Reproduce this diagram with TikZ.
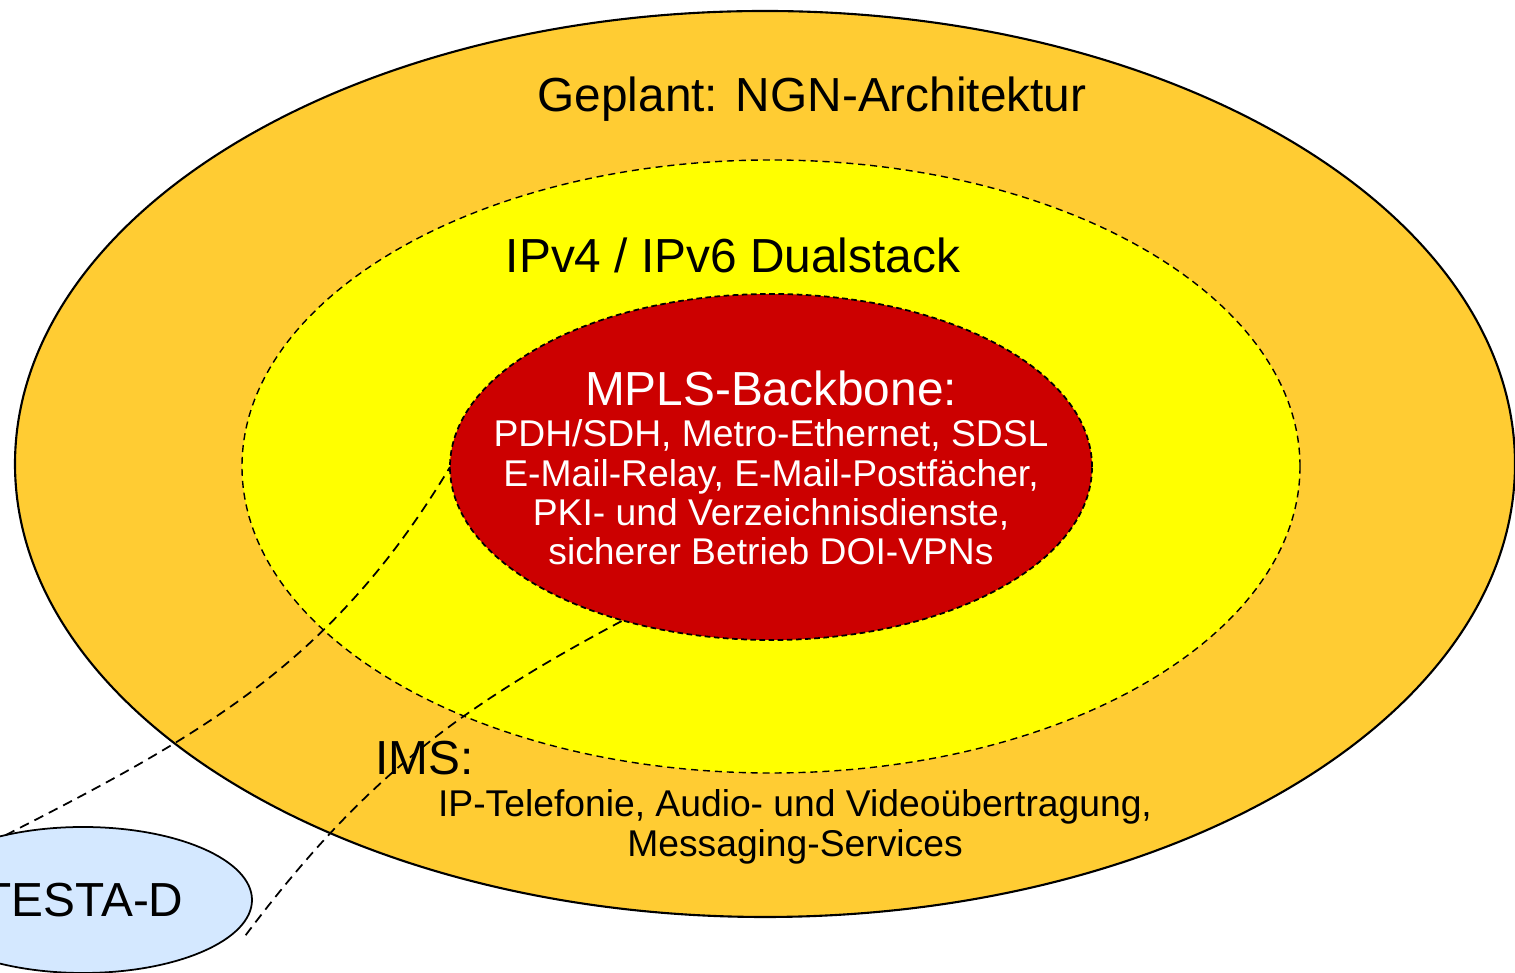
\documentclass[tikz,border=0pt]{standalone}
\usepackage{fontspec}
\setmainfont{Liberation Sans}
\usetikzlibrary{shapes.geometric}

\definecolor{ngnorange}{RGB}{255,204,51}
\definecolor{dualyellow}{RGB}{255,255,0}
\definecolor{mplsred}{RGB}{204,0,0}
\definecolor{testablue}{RGB}{212,232,255}

\begin{document}
\begin{tikzpicture}[
    ring/.style={ellipse, inner sep=0pt, outer sep=0pt},
    ngnring/.style={ring, draw, line width=0.6pt, fill=ngnorange, minimum width=15cm, minimum height=9.06cm},
    dualring/.style={ring, draw, line width=0.4pt, dash pattern=on 2pt off 1.4pt, fill=dualyellow, minimum width=10.58cm, minimum height=6.13cm},
    corering/.style={ring, draw, line width=0.5pt, dash pattern=on 1.6pt off 1pt, fill=mplsred, minimum width=6.42cm, minimum height=3.46cm},
    testabox/.style={ring, draw, line width=0.5pt, fill=testablue, minimum width=3.38cm, minimum height=1.46cm, font=\fontsize{13.6}{16}\selectfont},
    bigtext/.style={font=\fontsize{13.6}{16}\selectfont, inner sep=0pt},
    smalltext/.style={font=\fontsize{10.6}{11.2}\selectfont, align=center, inner sep=0pt},
    link/.style={line width=0.5pt, dash pattern=on 2.8pt off 1.8pt}
]

\useasboundingbox (0,0) rectangle (15.15,9.73);
\clip (0,0) rectangle (15.15,9.73);

% NGN ring
\node[ngnring] (ngn) at (7.65,5.09) {};
\node[bigtext, anchor=base] (ngnlabel) at (8.12,8.61) {Geplant: NGN-Architektur};

% Dualstack ring
\node[dualring] (dual) at (7.71,5.065) {};
\node[bigtext, anchor=base] (duallabel) at (7.33,7.00) {IPv4 / IPv6 Dualstack};

% MPLS core
\node[corering] (mpls) at (7.71,5.06) {};
\node[smalltext, text=white, anchor=north] (mplslabel) at (7.71,6.03)
    {{\fontsize{13.6}{16}\selectfont MPLS-Backbone:}\\[0.6pt]
     PDH/SDH, Metro-Ethernet, SDSL\\
     E-Mail-Relay, E-Mail-Postfächer,\\
     PKI- und Verzeichnisdienste,\\
     sicherer Betrieb DOI-VPNs};

% IMS
\node[bigtext, anchor=base west] (ims) at (3.75,1.98) {IMS:};
\node[smalltext, anchor=north] (imslabel) at (7.95,1.84)
    {IP-Telefonie, Audio- und Videoübertragung,\\
     Messaging-Services};

% TESTA-D
\node[testabox] (testa) at (0.83,0.73) {TESTA-D};
\coordinate (testaport) at ([shift={(0.11,-0.03)}]testa.-12);

% links
\draw[link] (testa.140) to[out=27, in=239] (mpls.west);
\draw[link] (testaport) to[out=53, in=208] (mpls.226);

\end{tikzpicture}
\end{document}
